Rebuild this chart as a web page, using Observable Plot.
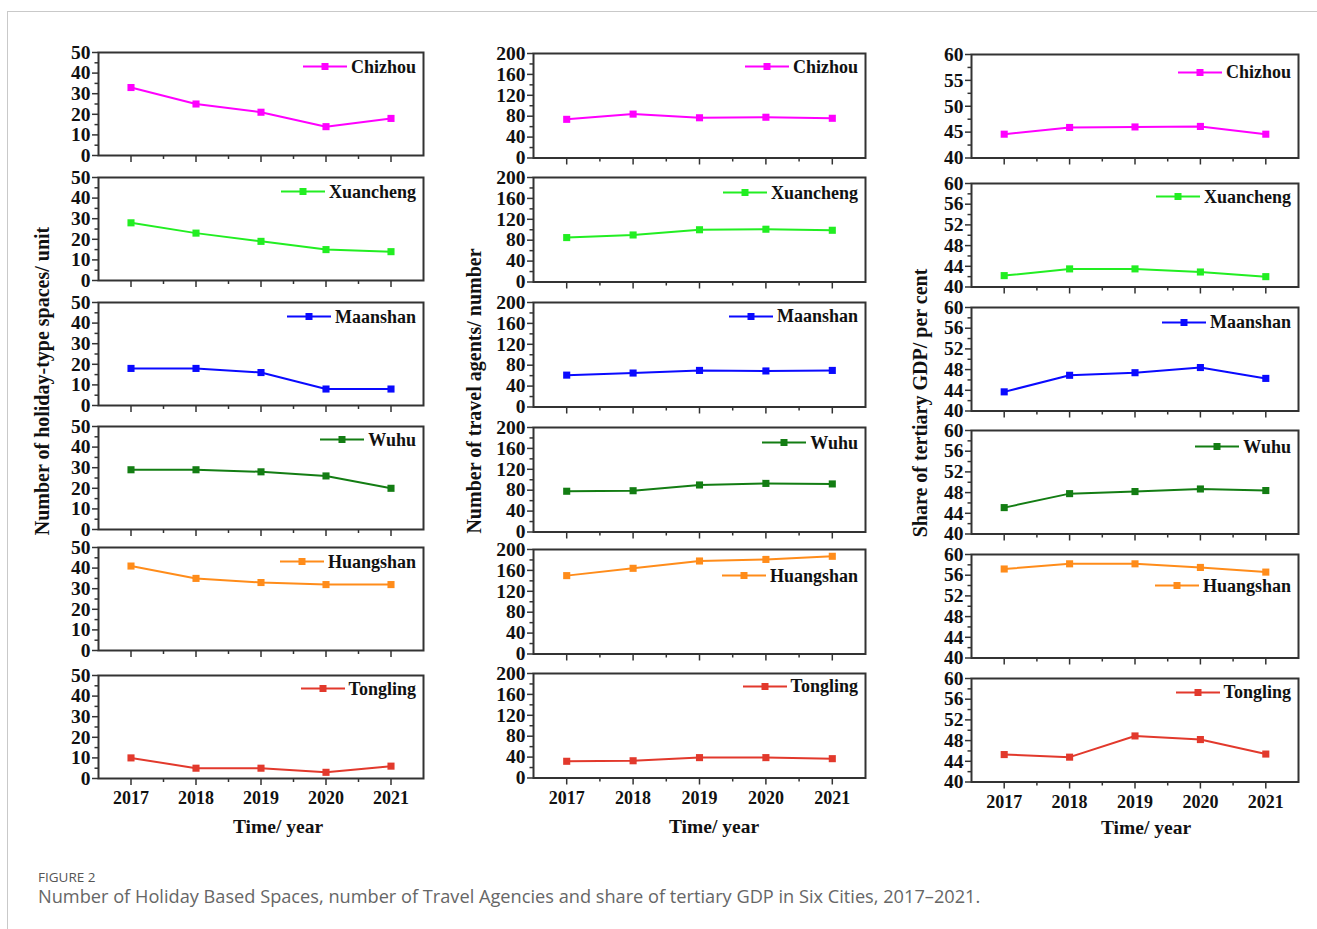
<!DOCTYPE html>
<html>
<head>
<meta charset="utf-8">
<script src="https://cdn.jsdelivr.net/npm/d3@7"></script>
<script src="https://cdn.jsdelivr.net/npm/@observablehq/plot@0.6"></script>
<style>
  html, body { margin: 0; padding: 0; background: #fff; }
  #root { position: relative; width: 1317px; height: 929px; overflow: hidden; font-family: "Liberation Serif", "Times New Roman", serif; }
  .border { position: absolute; left: 7px; top: 11px; width: 1400px; height: 1000px; border: 1px solid #c9c9c9; box-sizing: border-box; }
  .panel { position: absolute; }
  .legend { position: absolute; display: flex; align-items: center; font-weight: bold; font-size: 18px; color: #111; white-space: nowrap; transform: translateY(-50%); }
  .legend svg { margin-right: 4px; }
  .ytitle { position: absolute; font-weight: bold; font-size: 20px; color: #111; white-space: nowrap; transform: translate(-50%, -50%) rotate(-90deg); }
  .xtitle { position: absolute; font-weight: bold; font-size: 19.5px; color: #111; white-space: nowrap; transform: translate(-50%, -50%); }
  .figlabel { position: absolute; left: 38px; top: 870px; line-height: 14px; font-family: "Open Sans", sans-serif; font-size: 13.5px; color: #555; }
  .caption { position: absolute; left: 38px; top: 886px; line-height: 20px; font-family: "Open Sans", sans-serif; font-size: 18.2px; color: #666; white-space: nowrap; }
</style>
</head>
<body>
<div id="root"><div class="border"></div></div>
<script>
// ---------------- DATA ----------------
const years = [2017, 2018, 2019, 2020, 2021];
const cities = ["Chizhou", "Xuancheng", "Maanshan", "Wuhu", "Huangshan", "Tongling"];
const cityColors = ["#ff00ff", "#22ee22", "#0a0aff", "#137d13", "#ff8c1a", "#e2392c"];

// Number of holiday-type spaces (unit), rows in city order
const holidaySpaces = [
  [33, 25, 21, 14, 18],
  [28, 23, 19, 15, 14],
  [18, 18, 16, 8, 8],
  [29, 29, 28, 26, 20],
  [41, 35, 33, 32, 32],
  [10, 5, 5, 3, 6]
];
// Number of travel agents
const travelAgents = [
  [74, 84, 77, 78, 76],
  [85, 90, 100, 101, 99],
  [61, 65, 70, 69, 70],
  [78, 79, 90, 93, 92],
  [150, 164, 178, 181, 187],
  [32, 33, 39, 39, 37]
];
// Share of tertiary GDP (per cent)
const tertiaryShare = [
  [44.6, 45.9, 46.0, 46.1, 44.6],
  [42.2, 43.5, 43.5, 42.9, 42.0],
  [43.7, 46.9, 47.4, 48.4, 46.3],
  [45.1, 47.8, 48.2, 48.7, 48.4],
  [57.2, 58.2, 58.2, 57.5, 56.6],
  [45.3, 44.8, 48.9, 48.2, 45.4]
];

// tick labels
const holidayTicks = [0, 10, 20, 30, 40, 50];
const holidayMinor = [5, 15, 25, 35, 45];
const agentTicks = [0, 40, 80, 120, 160, 200];
const agentMinor = [20, 60, 100, 140, 180];
const shareTicksFirst = [40, 45, 50, 55, 60];
const shareMinorFirst = [42.5, 47.5, 52.5, 57.5];
const shareTicks = [40, 44, 48, 52, 56, 60];
const shareMinor = [42, 46, 50, 54, 58];
const yearMinor = [2017.5, 2018.5, 2019.5, 2020.5];

const yTitles = ["Number of holiday-type spaces/ unit", "Number of travel agents/ number", "Share of tertiary GDP/ per cent"];
const xTitle = "Time/ year";

// ---------------- LAYOUT ----------------
const columns = [
  { values: holidaySpaces, domain: [0, 50], ticks: r => holidayTicks, minor: r => holidayMinor,
    left: 98, width: 325, height: 103, tops: [51.7, 176.7, 301.7, 426, 547, 675],
    legendRight: 7, legendDy: [15, 15, 15, 13.5, 14.7, 13.5],
    yTitle: { x: 42, y: 381 }, xTitle: { x: 278, y: 826.5 } },
  { values: travelAgents, domain: [0, 200], ticks: r => agentTicks, minor: r => agentMinor,
    left: 533, width: 332, height: 104.5, tops: [53.3, 177, 301.7, 427, 549, 672.5],
    legendRight: 7, legendDy: [13.5, 15.5, 14.5, 15.5, 26.7, 13.7],
    yTitle: { x: 474, y: 391 }, xTitle: { x: 714, y: 827 } },
  { values: tertiaryShare, domain: [40, 60], ticks: r => r === 0 ? shareTicksFirst : shareTicks, minor: r => r === 0 ? shareMinorFirst : shareMinor,
    left: 971, width: 327, height: 103.5, tops: [54, 182.7, 307, 430, 554, 678],
    legendRight: 7, legendDy: [18.3, 14, 15.3, 16.5, 31.7, 14.3],
    yTitle: { x: 920, y: 403 }, xTitle: { x: 1146, y: 828 } }
];

const ML = 62, MR = 4, MT = 4;

function makePanel(values, color, col, row, isBottom) {
  const data = years.map((yr, i) => ({ year: yr, value: values[i] }));
  const MB = isBottom ? 34 : 12;
  return Plot.plot({
    width: col.width + ML + MR,
    height: col.height + MT + MB,
    marginLeft: ML, marginRight: MR, marginTop: MT, marginBottom: MB,
    x: { domain: [2016.5, 2021.5], label: null },
    y: { domain: col.domain, label: null },
    style: { fontFamily: "'Liberation Serif', 'Times New Roman', serif", color: "#111", background: "transparent", overflow: "visible" },
    marks: [
      Plot.axisY({ ticks: col.minor(row), tickSize: 3.5, tickFormat: () => "", stroke: "#333", strokeWidth: 1.5 }),
      Plot.axisY({ ticks: col.ticks(row), tickSize: 6, tickPadding: 2, fontSize: 19.5, fontWeight: "bold", stroke: "#333", strokeWidth: 1.5, tickFormat: d => String(d) }),
      Plot.axisX({ ticks: yearMinor, tickSize: 4, tickFormat: () => "", stroke: "#333", strokeWidth: 1.5 }),
      Plot.axisX({ ticks: years, tickSize: 7, tickPadding: 6, fontSize: 18, fontWeight: "bold", stroke: "#333", strokeWidth: 1.5,
                   tickFormat: isBottom ? (d => String(d)) : (() => "") }),
      Plot.frame({ stroke: "#333", strokeWidth: 2 }),
      Plot.line(data, { x: "year", y: "value", stroke: color, strokeWidth: 2 }),
      Plot.dot(data, { x: "year", y: "value", symbol: "square", fill: color, stroke: "none", r: 4 })
    ]
  });
}

const root = document.getElementById("root");

columns.forEach((col, c) => {
  cities.forEach((city, r) => {
    const color = cityColors[r];
    const isBottom = r === cities.length - 1;
    const div = document.createElement("div");
    div.className = "panel";
    div.style.left = (col.left - ML) + "px";
    div.style.top = (col.tops[r] - MT) + "px";
    div.appendChild(makePanel(col.values[r], color, col, r, isBottom));
    root.appendChild(div);

    // legend inside the panel (top-right)
    const lg = document.createElement("div");
    lg.className = "legend";
    lg.style.right = (1317 - (col.left + col.width - col.legendRight)) + "px";
    lg.style.top = (col.tops[r] + col.legendDy[r]) + "px";
    lg.innerHTML = `<svg width="44" height="10"><line x1="0" y1="5" x2="44" y2="5" stroke="${color}" stroke-width="2"/><rect x="18.5" y="1.5" width="7" height="7" fill="${color}"/></svg><span>${city}</span>`;
    root.appendChild(lg);
  });

  const yt = document.createElement("div");
  yt.className = "ytitle";
  yt.style.left = col.yTitle.x + "px";
  yt.style.top = col.yTitle.y + "px";
  yt.textContent = yTitles[c];
  root.appendChild(yt);

  const xt = document.createElement("div");
  xt.className = "xtitle";
  xt.style.left = col.xTitle.x + "px";
  xt.style.top = col.xTitle.y + "px";
  xt.textContent = xTitle;
  root.appendChild(xt);
});

const fl = document.createElement("div");
fl.className = "figlabel";
fl.textContent = "FIGURE 2";
root.appendChild(fl);

const cap = document.createElement("div");
cap.className = "caption";
cap.textContent = "Number of Holiday Based Spaces, number of Travel Agencies and share of tertiary GDP in Six Cities, 2017\u20132021.";
root.appendChild(cap);
</script>
</body>
</html>
